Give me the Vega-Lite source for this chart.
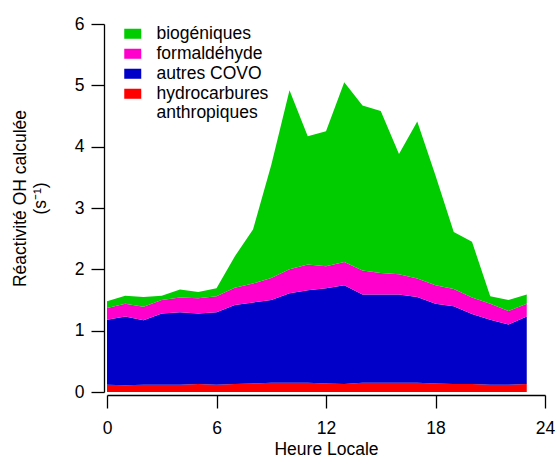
{
  "$schema": "https://vega.github.io/schema/vega-lite/v6.json",
  "width": 438,
  "height": 368,
  "autosize": {"type": "none"},
  "padding": {"left": 107, "top": 24, "right": 10, "bottom": 66},
  "background": "white",
  "config": {
    "font": "Liberation Sans",
    "view": {"stroke": null},
    "axis": {"grid": false, "domainColor": "black", "tickColor": "black", "labelColor": "black", "titleColor": "black", "labelFontSize": 17.5, "titleFontSize": 17.5, "titleFontWeight": "normal", "labelFont": "Liberation Sans", "titleFont": "Liberation Sans", "domainWidth": 1.3, "tickWidth": 1.3}
  },
  "data": {"values": [
    {"heure": 0, "serie": "hydrocarbures anthropiques", "r": 0.12},
    {"heure": 0, "serie": "autres COVO", "r": 1.06},
    {"heure": 0, "serie": "formaldéhyde", "r": 0.19},
    {"heure": 0, "serie": "biogéniques", "r": 0.11},
    {"heure": 1, "serie": "hydrocarbures anthropiques", "r": 0.11},
    {"heure": 1, "serie": "autres COVO", "r": 1.12},
    {"heure": 1, "serie": "formaldéhyde", "r": 0.21},
    {"heure": 1, "serie": "biogéniques", "r": 0.13},
    {"heure": 2, "serie": "hydrocarbures anthropiques", "r": 0.12},
    {"heure": 2, "serie": "autres COVO", "r": 1.05},
    {"heure": 2, "serie": "formaldéhyde", "r": 0.22},
    {"heure": 2, "serie": "biogéniques", "r": 0.16},
    {"heure": 3, "serie": "hydrocarbures anthropiques", "r": 0.12},
    {"heure": 3, "serie": "autres COVO", "r": 1.16},
    {"heure": 3, "serie": "formaldéhyde", "r": 0.22},
    {"heure": 3, "serie": "biogéniques", "r": 0.07},
    {"heure": 4, "serie": "hydrocarbures anthropiques", "r": 0.12},
    {"heure": 4, "serie": "autres COVO", "r": 1.18},
    {"heure": 4, "serie": "formaldéhyde", "r": 0.24},
    {"heure": 4, "serie": "biogéniques", "r": 0.13},
    {"heure": 5, "serie": "hydrocarbures anthropiques", "r": 0.13},
    {"heure": 5, "serie": "autres COVO", "r": 1.15},
    {"heure": 5, "serie": "formaldéhyde", "r": 0.25},
    {"heure": 5, "serie": "biogéniques", "r": 0.10},
    {"heure": 6, "serie": "hydrocarbures anthropiques", "r": 0.12},
    {"heure": 6, "serie": "autres COVO", "r": 1.18},
    {"heure": 6, "serie": "formaldéhyde", "r": 0.26},
    {"heure": 6, "serie": "biogéniques", "r": 0.13},
    {"heure": 7, "serie": "hydrocarbures anthropiques", "r": 0.13},
    {"heure": 7, "serie": "autres COVO", "r": 1.29},
    {"heure": 7, "serie": "formaldéhyde", "r": 0.28},
    {"heure": 7, "serie": "biogéniques", "r": 0.51},
    {"heure": 8, "serie": "hydrocarbures anthropiques", "r": 0.14},
    {"heure": 8, "serie": "autres COVO", "r": 1.32},
    {"heure": 8, "serie": "formaldéhyde", "r": 0.31},
    {"heure": 8, "serie": "biogéniques", "r": 0.88},
    {"heure": 9, "serie": "hydrocarbures anthropiques", "r": 0.15},
    {"heure": 9, "serie": "autres COVO", "r": 1.35},
    {"heure": 9, "serie": "formaldéhyde", "r": 0.36},
    {"heure": 9, "serie": "biogéniques", "r": 1.84},
    {"heure": 10, "serie": "hydrocarbures anthropiques", "r": 0.15},
    {"heure": 10, "serie": "autres COVO", "r": 1.46},
    {"heure": 10, "serie": "formaldéhyde", "r": 0.39},
    {"heure": 10, "serie": "biogéniques", "r": 2.92},
    {"heure": 11, "serie": "hydrocarbures anthropiques", "r": 0.15},
    {"heure": 11, "serie": "autres COVO", "r": 1.51},
    {"heure": 11, "serie": "formaldéhyde", "r": 0.42},
    {"heure": 11, "serie": "biogéniques", "r": 2.09},
    {"heure": 12, "serie": "hydrocarbures anthropiques", "r": 0.14},
    {"heure": 12, "serie": "autres COVO", "r": 1.55},
    {"heure": 12, "serie": "formaldéhyde", "r": 0.36},
    {"heure": 12, "serie": "biogéniques", "r": 2.20},
    {"heure": 13, "serie": "hydrocarbures anthropiques", "r": 0.13},
    {"heure": 13, "serie": "autres COVO", "r": 1.61},
    {"heure": 13, "serie": "formaldéhyde", "r": 0.38},
    {"heure": 13, "serie": "biogéniques", "r": 2.93},
    {"heure": 14, "serie": "hydrocarbures anthropiques", "r": 0.15},
    {"heure": 14, "serie": "autres COVO", "r": 1.44},
    {"heure": 14, "serie": "formaldéhyde", "r": 0.39},
    {"heure": 14, "serie": "biogéniques", "r": 2.69},
    {"heure": 15, "serie": "hydrocarbures anthropiques", "r": 0.15},
    {"heure": 15, "serie": "autres COVO", "r": 1.44},
    {"heure": 15, "serie": "formaldéhyde", "r": 0.35},
    {"heure": 15, "serie": "biogéniques", "r": 2.64},
    {"heure": 16, "serie": "hydrocarbures anthropiques", "r": 0.15},
    {"heure": 16, "serie": "autres COVO", "r": 1.44},
    {"heure": 16, "serie": "formaldéhyde", "r": 0.33},
    {"heure": 16, "serie": "biogéniques", "r": 1.96},
    {"heure": 17, "serie": "hydrocarbures anthropiques", "r": 0.15},
    {"heure": 17, "serie": "autres COVO", "r": 1.40},
    {"heure": 17, "serie": "formaldéhyde", "r": 0.30},
    {"heure": 17, "serie": "biogéniques", "r": 2.56},
    {"heure": 18, "serie": "hydrocarbures anthropiques", "r": 0.14},
    {"heure": 18, "serie": "autres COVO", "r": 1.30},
    {"heure": 18, "serie": "formaldéhyde", "r": 0.30},
    {"heure": 18, "serie": "biogéniques", "r": 1.79},
    {"heure": 19, "serie": "hydrocarbures anthropiques", "r": 0.13},
    {"heure": 19, "serie": "autres COVO", "r": 1.27},
    {"heure": 19, "serie": "formaldéhyde", "r": 0.28},
    {"heure": 19, "serie": "biogéniques", "r": 0.93},
    {"heure": 20, "serie": "hydrocarbures anthropiques", "r": 0.13},
    {"heure": 20, "serie": "autres COVO", "r": 1.14},
    {"heure": 20, "serie": "formaldéhyde", "r": 0.27},
    {"heure": 20, "serie": "biogéniques", "r": 0.91},
    {"heure": 21, "serie": "hydrocarbures anthropiques", "r": 0.12},
    {"heure": 21, "serie": "autres COVO", "r": 1.06},
    {"heure": 21, "serie": "formaldéhyde", "r": 0.26},
    {"heure": 21, "serie": "biogéniques", "r": 0.12},
    {"heure": 22, "serie": "hydrocarbures anthropiques", "r": 0.12},
    {"heure": 22, "serie": "autres COVO", "r": 0.98},
    {"heure": 22, "serie": "formaldéhyde", "r": 0.22},
    {"heure": 22, "serie": "biogéniques", "r": 0.18},
    {"heure": 23, "serie": "hydrocarbures anthropiques", "r": 0.13},
    {"heure": 23, "serie": "autres COVO", "r": 1.10},
    {"heure": 23, "serie": "formaldéhyde", "r": 0.21},
    {"heure": 23, "serie": "biogéniques", "r": 0.15}
  ]},
  "transform": [
    {"calculate": "indexof(['hydrocarbures anthropiques','autres COVO','formaldéhyde','biogéniques'], datum.serie)", "as": "rang"}
  ],
  "mark": {"type": "area", "interpolate": "linear"},
  "encoding": {
    "x": {
      "field": "heure", "type": "quantitative",
      "scale": {"domain": [0, 24], "nice": false, "zero": false},
      "axis": {"values": [0, 6, 12, 18, 24], "title": "Heure Locale", "offset": 3, "tickSize": 13, "labelPadding": 11, "titlePadding": 4, "labelFlush": false, "labelOverlap": false}
    },
    "y": {
      "field": "r", "type": "quantitative", "stack": "zero",
      "scale": {"domain": [0, 6], "nice": false},
      "axis": {"values": [0, 1, 2, 3, 4, 5, 6], "title": ["Réactivité OH calculée", "(s⁻¹)"], "offset": 3, "tickSize": 13, "labelPadding": 7, "titlePadding": 25, "titleY": 174, "labelFlush": false, "labelOverlap": false}
    },
    "color": {
      "field": "serie", "type": "nominal",
      "scale": {"domain": ["biogéniques", "formaldéhyde", "autres COVO", "hydrocarbures anthropiques"], "range": ["#00CC00", "#FF00CC", "#0000C8", "#FF0000"]},
      "legend": {
        "title": null, "orient": "none", "legendX": 17, "legendY": 1,
        "symbolType": "M-1,-0.59H1V0.59H-1Z", "symbolSize": 289, "symbolStrokeWidth": 0, "symbolOpacity": 1,
        "labelFontSize": 17.5, "labelColor": "black", "labelFont": "Liberation Sans", "labelOffset": 15, "rowPadding": 1,
        "labelExpr": "datum.value == 'hydrocarbures anthropiques' ? ['hydrocarbures', 'anthropiques'] : datum.value",
        "labelLimit": 300
      }
    },
    "order": {"field": "rang", "type": "quantitative"}
  }
}
